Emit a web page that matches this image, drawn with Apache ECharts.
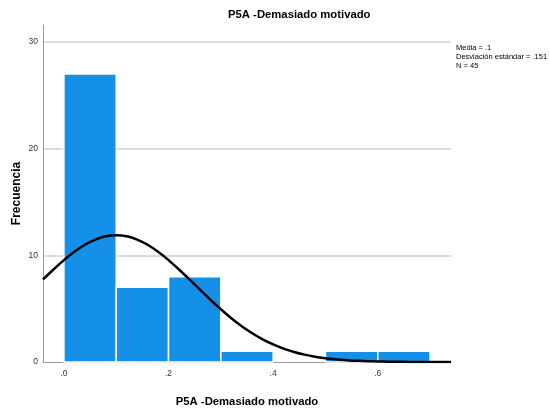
<!DOCTYPE html>
<html><head><meta charset="utf-8">
<script src="https://cdn.jsdelivr.net/npm/echarts@6/dist/echarts.min.js"></script>
<style>html,body{margin:0;padding:0;background:#fff}#c{width:550px;height:412px}</style>
</head><body><div id="c"></div>
<script>
// Histogram bins and frequencies
const binStarts = [0.0, 0.1, 0.2, 0.3, 0.4, 0.5, 0.6];
const binEnds   = [0.1, 0.2, 0.3, 0.4, 0.5, 0.6, 0.7];
const counts    = [27, 7, 8, 1, 0, 1, 1];
// Normal curve
const curveX = [-0.04,-0.02,0.00,0.02,0.04,0.06,0.08,0.10,0.12,0.14,0.16,0.18,0.20,0.22,0.24,0.26,0.28,0.30,0.32,0.34,0.36,0.38,0.40,0.42,0.44,0.46,0.48,0.50,0.52,0.54,0.56,0.58,0.60,0.62,0.64,0.66,0.68,0.70,0.72,0.74];
const curveY = [7.74,8.67,9.55,10.33,10.99,11.48,11.79,11.89,11.79,11.48,10.99,10.33,9.55,8.67,7.74,6.78,5.84,4.95,4.11,3.36,2.70,2.13,1.65,1.26,0.94,0.69,0.50,0.36,0.25,0.17,0.11,0.08,0.05,0.03,0.02,0.01,0.01,0.00,0.00,0.00];
const xTicks = [0.0, 0.2, 0.4, 0.6];
const yTicks = [0, 10, 20, 30];
const chartTitle = 'P5A -Demasiado motivado';
const xName = 'P5A -Demasiado motivado';
const yName = 'Frecuencia';
const statsLines = ['Media = .1', 'Desviación estándar = .151', 'N = 45'];

const bars = binStarts.map((s, i) => [s, binEnds[i], counts[i]]);
const curve = curveX.map((x, i) => [x, curveY[i]]);

const FONT = '"Liberation Sans", Arial, sans-serif';

const chart = echarts.init(document.getElementById('c'), null, {renderer: 'canvas'});
chart.setOption({
  animation: false,
  backgroundColor: '#ffffff',
  title: {
    text: chartTitle, left: 228, top: 9, padding: 0,
    textStyle: {fontFamily: FONT, fontSize: 11.3, fontWeight: 'bold', color: '#000'}
  },
  grid: {left: 43, right: 99, top: 25, bottom: 48, containLabel: false},
  xAxis: {
    type: 'value', min: -0.04, max: 0.74,
    name: xName, nameLocation: 'middle', nameGap: 34,
    nameTextStyle: {fontFamily: FONT, fontSize: 11.3, fontWeight: 'bold', color: '#000'},
    axisLine: {show: true, onZero: false, lineStyle: {color: '#999', width: 1}},
    axisTick: {show: false},
    splitLine: {show: false},
    axisLabel: {
      customValues: xTicks, margin: 7,
      fontFamily: FONT, fontSize: 8.5, color: '#333',
      formatter: v => v.toFixed(1).replace(/^0/, '')
    }
  },
  yAxis: {
    type: 'value', min: 0, max: 31.6, interval: 10,
    name: yName, nameLocation: 'middle', nameGap: 20, nameMoveOverlap: false,
    nameTextStyle: {fontFamily: FONT, fontSize: 12, fontWeight: 'bold', color: '#000'},
    axisLine: {show: true, onZero: false, lineStyle: {color: '#999', width: 1}},
    axisTick: {show: false},
    splitLine: {show: true, showMinLine: false, showMaxLine: false, lineStyle: {color: '#dcdcdc', width: 2}},
    axisLabel: {
      customValues: yTicks, margin: 5,
      fontFamily: FONT, fontSize: 8.5, color: '#333'
    }
  },
  graphic: [{
    type: 'text', left: 456, top: 43,
    style: {text: statsLines.join('\n'), font: '7.5px ' + FONT, fill: '#000', lineHeight: 9}
  }],
  series: [{
    type: 'custom', z: 2,
    data: bars,
    renderItem: (params, api) => {
      const c = api.value(2);
      if (!c) return null;
      const p0 = api.coord([api.value(0), c]);
      const p1 = api.coord([api.value(1), 0]);
      return {
        type: 'rect',
        shape: {x: p0[0], y: p0[1], width: p1[0] - p0[0], height: p1[1] - p0[1]},
        style: {fill: '#1590e8', stroke: '#ffffff', lineWidth: 1.5}
      };
    }
  }, {
    type: 'line', z: 5, data: curve, symbol: 'none', smooth: 0.3,
    clip: true,
    lineStyle: {color: '#000', width: 2.5}
  }]
});
</script>
</body></html>
